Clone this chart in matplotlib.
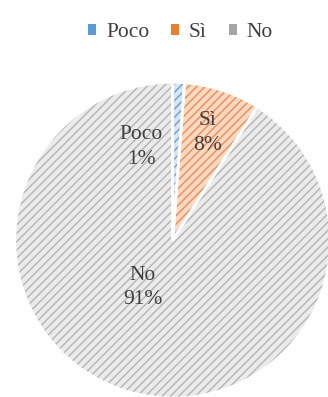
import matplotlib.pyplot as plt
from matplotlib.patches import Patch

categories = ['Poco', 'Sì', 'No']
values = [1.2, 7.8, 91]
pct_labels = ['1%', '8%', '91%']

main_colors = ['#5B9BD5', '#ED7D31', '#A5A5A5']
light_colors = ['#d6e6f5', '#fbd9c2', '#ebebeb']
hatch_colors = ['#6fa5db', '#f0915a', '#b8b8b8']

plt.rcParams['font.family'] = ['Liberation Serif', 'DejaVu Serif']
plt.rcParams['hatch.linewidth'] = 1.1
text_color = '#404040'

fig = plt.figure(figsize=(3.28, 3.97), dpi=100)
ax = fig.add_axes([0.045, -0.003, 0.963, 0.796])

wedges, _ = ax.pie(values, startangle=90, counterclock=False,
                   wedgeprops=dict(linewidth=0))
for w, fc, hc in zip(wedges, light_colors, hatch_colors):
    w.set_facecolor(fc)
    w.set_edgecolor(hc)
    w.set_hatch('////')

# white separators on top
edges, _ = ax.pie(values, startangle=90, counterclock=False,
                  wedgeprops=dict(fill=False, edgecolor='white', linewidth=2))

label_pos = [(-0.2, 0.59), (0.22, 0.68), (-0.19, -0.3)]
for (x, y), cat, p in zip(label_pos, categories, pct_labels):
    ax.text(x, y, f'{cat}\n{p}', ha='center', va='center', fontsize=15.5,
            color=text_color, linespacing=1.4)

ax.set_xlim(-1, 1)
ax.set_ylim(-1, 1)
ax.set_aspect('equal')
ax.axis('off')

handles = [Patch(facecolor=c, edgecolor='none') for c in main_colors]
fig.legend(handles, categories, loc='upper center', bbox_to_anchor=(0.55, 0.99),
           ncol=3, frameon=False, fontsize=15.5, handlelength=0.4, handleheight=0.4,
           handletextpad=0.45, columnspacing=1.0, labelcolor=text_color)

fig.savefig('out.png', dpi=100)
